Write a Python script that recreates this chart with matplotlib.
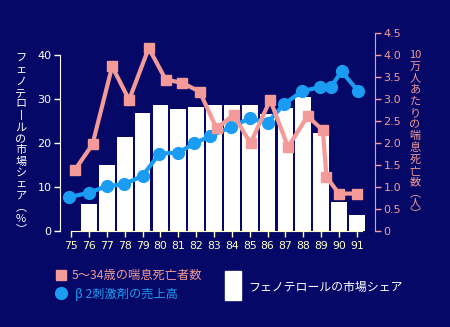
import matplotlib
matplotlib.use("Agg")
import matplotlib.pyplot as plt
from matplotlib.patches import Rectangle

# data
years = list(range(75, 92))
share = [0, 6.1, 15.0, 21.4, 26.8, 28.6, 27.7, 28.2, 28.6, 28.6, 28.6, 26.5, 27.9, 30.5, 22.2, 6.7, 3.6]

death_x = [75.2, 76.2, 77.3, 78.25, 79.35, 80.3, 81.2, 82.2, 83.15, 84.1, 85.05, 86.15, 87.15, 88.25, 89.1, 89.3, 90.0, 91.0]
death = [1.38, 1.97, 3.74, 2.98, 4.16, 3.44, 3.37, 3.17, 2.33, 2.64, 1.99, 2.98, 1.91, 2.61, 2.29, 1.23, 0.85, 0.85]

sales_x = [74.9, 76.0, 77.0, 77.95, 79.0, 79.95, 81.0, 81.9, 82.8, 83.95, 85.0, 86.0, 86.95, 87.95, 88.95, 89.55, 90.15, 91.05]
sales = [0.77, 0.87, 1.02, 1.06, 1.25, 1.76, 1.78, 1.99, 2.16, 2.36, 2.56, 2.46, 2.89, 3.18, 3.27, 3.27, 3.63, 3.19]

left_ticks = [0, 10, 20, 30, 40]
right_ticks = [0, 0.5, 1.0, 1.5, 2.0, 2.5, 3.0, 3.5, 4.0, 4.5]
right_labels = ["0", "0.5", "1.0", "1.5", "2.0", "2.5", "3.0", "3.5", "4.0", "4.5"]

BG = "#050866"
PINK = "#f49a98"
BLUE = "#1a9cf2"
YEL = "#ffffc8"
JP = ["Noto Sans CJK JP", "DejaVu Sans"]

W, H = 450, 327
fig = plt.figure(figsize=(W / 100, H / 100), dpi=100, facecolor=BG)

ax = fig.add_axes([60 / W, 1 - 231 / H, (375 - 60) / W, (231 - 33) / H])
ax.set_facecolor(BG)
ax.bar(years, share, width=0.88, color="white", zorder=1)
ax.set_xlim(74.38, 92.02)
ax.set_ylim(0, 45)
ax.set_yticks(left_ticks)
ax.set_xticks(years)
ax.set_xticklabels([str(y) for y in years])
for s in ["top", "right"]:
    ax.spines[s].set_visible(False)
ax.spines["left"].set_color("white")
ax.spines["left"].set_bounds(0, 40)
ax.spines["bottom"].set_color(YEL)
ax.spines["bottom"].set_bounds(75, 91.3)
ax.tick_params(axis="y", colors="white", labelsize=8, length=4, width=1, pad=2)
ax.tick_params(axis="x", colors=YEL, labelsize=7.8, length=4, width=1, pad=3)
for lab in ax.get_yticklabels() + ax.get_xticklabels():
    lab.set_family("DejaVu Sans")

ax2 = ax.twinx()
ax2.set_ylim(0, 4.5)
ax2.plot(sales_x, sales, color=BLUE, lw=3, marker="o", ms=8.5, zorder=3)
ax2.plot(death_x, death, color=PINK, lw=3, marker="s", ms=7.5, zorder=4)
ax2.set_yticks(right_ticks)
ax2.set_yticklabels(right_labels)
for s in ["top", "left", "bottom"]:
    ax2.spines[s].set_visible(False)
ax2.spines["right"].set_color(PINK)
ax2.spines["right"].set_bounds(0, 4.5)
ax2.tick_params(axis="y", colors=PINK, labelsize=8, length=4, width=1, pad=2)


def vtext(x, ys, chars, color):
    for c, y in zip(chars, ys):
        fig.text(x / W, 1 - y / H, c, color=color, fontsize=8, family=JP,
                 ha="center", va="center")


left_chars = list("フェノテロ丨ルの市場シェア") + ["︵", "%", "︶"]
left_y = [59 + 11.4 * i for i in range(13)] + [207, 219, 229]
vtext(21, left_y, left_chars, "white")

right_chars = ["10"] + list("万人あたりの喘息死亡数") + ["︵", "人", "︶"]
right_y = [55 + 11.6 * i for i in range(12)] + [193, 203, 213]
vtext(415, right_y, right_chars, PINK)

# legend drawn in pixel space
lg = fig.add_axes([0, 0, 1, 1], facecolor="none")
lg.set_xlim(0, W)
lg.set_ylim(H, 0)
lg.axis("off")
lg.add_patch(Rectangle((56, 270), 10, 10, color=PINK))
lg.plot([61], [293], "o", color=BLUE, ms=8.5)
lg.add_patch(Rectangle((225, 271), 16, 29, color="white"))
lg.text(72, 275, "5〜34歳の喘息死亡者数", color=PINK, fontsize=8.8, family=JP, va="center")
lg.text(75, 294, "β 2刺激剤の売上高", color=BLUE, fontsize=8.8, family=JP, va="center")
lg.text(248, 287, "フェノテロールの市場シェア", color="white", fontsize=8.6, family=JP, va="center")

fig.savefig("out.png", dpi=100, facecolor=BG)
